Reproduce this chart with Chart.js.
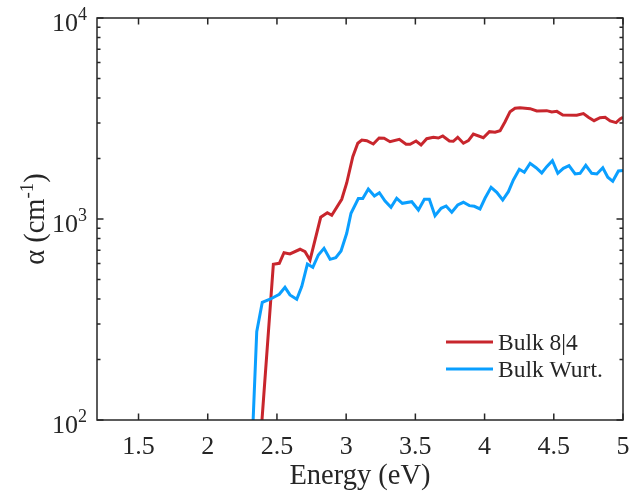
<!DOCTYPE html>
<html>
<head>
<meta charset="utf-8">
<script src="https://cdn.jsdelivr.net/npm/chart.js@4/dist/chart.umd.min.js"></script>
<style>
  body { margin: 0; background: #fff; }
</style>
</head>
<body>
<canvas id="absorption" width="631" height="497"></canvas>
<script>
// absorption spectra, alpha in cm^-1 vs photon energy in eV
const seriesNames = ['Bulk 8|4', 'Bulk Wurt.']

const energy84 = [2.36, 2.474, 2.517, 2.551, 2.594, 2.667, 2.703, 2.739, 2.816, 2.864,
  2.896, 2.968, 3.004, 3.048, 3.084, 3.113, 3.149, 3.196, 3.238, 3.274,
  3.317, 3.384, 3.433, 3.462, 3.505, 3.541, 3.582, 3.630, 3.666, 3.698,
  3.746, 3.774, 3.806, 3.847, 3.883, 3.919, 3.991, 4.035, 4.076, 4.112,
  4.148, 4.184, 4.220, 4.256, 4.329, 4.377, 4.449, 4.485, 4.522, 4.565,
  4.666, 4.714, 4.750, 4.791, 4.834, 4.871, 4.907, 4.950, 4.979, 5.0]
const alpha84 = [50, 595, 602, 680, 670, 707, 688, 625, 1020, 1075,
  1043, 1253, 1511, 2042, 2381, 2472, 2453, 2361, 2529, 2522,
  2424, 2492, 2353, 2353, 2443, 2334, 2508, 2549, 2529, 2588,
  2443, 2435, 2549, 2381, 2453, 2648, 2538, 2719, 2700, 2750,
  3049, 3419, 3555, 3580, 3540, 3446, 3460, 3407, 3432, 3292,
  3282, 3343, 3206, 3083, 3190, 3206, 3073, 3015, 3144, 3206]

const energyWurt = [2.31, 2.354, 2.394, 2.450, 2.517, 2.558, 2.594, 2.643, 2.679, 2.720,
  2.759, 2.799, 2.840, 2.884, 2.925, 2.963, 3.004, 3.035, 3.088, 3.120,
  3.160, 3.204, 3.240, 3.281, 3.324, 3.365, 3.406, 3.474, 3.522, 3.565,
  3.601, 3.642, 3.686, 3.722, 3.763, 3.806, 3.847, 3.890, 3.926, 3.967,
  4.003, 4.047, 4.088, 4.131, 4.172, 4.208, 4.251, 4.287, 4.329, 4.372,
  4.413, 4.449, 4.490, 4.529, 4.569, 4.610, 4.654, 4.690, 4.731, 4.774,
  4.811, 4.854, 4.890, 4.926, 4.967, 5.0]
const alphaWurt = [50, 275, 385, 399, 422, 457, 419, 399, 461, 597,
  575, 662, 715, 630, 642, 693, 849, 1068, 1265, 1264,
  1410, 1301, 1351, 1229, 1143, 1268, 1197, 1219, 1109, 1253,
  1253, 1038, 1130, 1161, 1080, 1174, 1211, 1165, 1157, 1122,
  1268, 1438, 1357, 1243, 1367, 1563, 1767, 1707, 1893, 1800,
  1695, 1821, 1950, 1688, 1787, 1842, 1675, 1688, 1850, 1688,
  1675, 1800, 1613, 1540, 1733, 1745]

const xTicks = [1.5, 2, 2.5, 3, 3.5, 4, 4.5, 5]
const yDecades = [2, 3, 4]

const axisColor = '#262626'
const serif = '"Liberation Serif", "Times New Roman", serif'

const toPoints = (xs, ys) => xs.map((e, i) => ({ x: e, y: ys[i] }))

// box, inward ticks, 10^n labels, y title and legend
const framePlugin = {
  id: 'frame',
  afterDatasetsDraw(chart) {
    const { ctx, chartArea: a, scales: { x, y } } = chart
    ctx.save()
    ctx.strokeStyle = axisColor
    ctx.lineWidth = 1.5
    ctx.strokeRect(a.left, a.top, a.right - a.left, a.bottom - a.top)

    ctx.beginPath()
    for (let v of xTicks) {
      const px = x.getPixelForValue(v)
      ctx.moveTo(px, a.bottom); ctx.lineTo(px, a.bottom - 6.5)
      ctx.moveTo(px, a.top); ctx.lineTo(px, a.top + 6.5)
    }
    yDecades.forEach((d, i) => {
      const last = i === yDecades.length - 1
      for (let m = 1; m <= (last ? 1 : 9); m++) {
        const py = y.getPixelForValue(m * Math.pow(10, d))
        const len = m === 1 ? 6.5 : 3.5
        ctx.moveTo(a.left, py); ctx.lineTo(a.left + len, py)
        ctx.moveTo(a.right, py); ctx.lineTo(a.right - len, py)
      }
    })
    ctx.stroke()

    // y tick labels with superscript exponent
    ctx.fillStyle = axisColor
    ctx.textBaseline = 'alphabetic'
    ctx.textAlign = 'right'
    for (let d of yDecades) {
      const py = y.getPixelForValue(Math.pow(10, d))
      ctx.font = '18px ' + serif
      const supW = ctx.measureText(String(d)).width
      ctx.fillText(String(d), a.left - 10, py + 2)
      ctx.font = '26px ' + serif
      ctx.fillText('10', a.left - 10 - supW, py + 13)
    }

    // legend
    ctx.textAlign = 'left'
    ctx.font = '23.5px ' + serif
    chart.data.datasets.forEach((ds, i) => {
      const ly = a.bottom - 78 + i * 27
      ctx.strokeStyle = ds.borderColor
      ctx.lineWidth = 3
      ctx.beginPath()
      ctx.moveTo(a.right - 177, ly)
      ctx.lineTo(a.right - 130, ly)
      ctx.stroke()
      ctx.fillStyle = axisColor
      ctx.fillText(ds.label, a.right - 125, ly + 8)
    })

    // y axis title: alpha (cm^-1)
    const big = '28.5px ' + serif
    const small = '19px ' + serif
    ctx.translate(44, (a.top + a.bottom) / 2)
    ctx.rotate(-Math.PI / 2)
    ctx.font = big
    const w1 = ctx.measureText('\u03b1 (cm').width
    const w3 = ctx.measureText(')').width
    ctx.font = small
    const w2 = ctx.measureText('-1').width
    let tx = -(w1 + w2 + w3) / 2
    ctx.font = big
    ctx.fillText('\u03b1 (cm', tx, 0)
    tx += w1
    ctx.font = small
    ctx.fillText('-1', tx, -11)
    tx += w2
    ctx.font = big
    ctx.fillText(')', tx, 0)
    ctx.restore()
  }
}

const ctx = document.getElementById('absorption').getContext('2d')

const chart = new Chart(ctx, {
  type: 'line',
  data: {
    datasets: [{
      label: seriesNames[0],
      data: toPoints(energy84, alpha84),
      borderColor: '#c8262d',
      borderWidth: 3,
      pointRadius: 0,
      order: 1
    }, {
      label: seriesNames[1],
      data: toPoints(energyWurt, alphaWurt),
      borderColor: '#0a9fff',
      borderWidth: 3,
      pointRadius: 0,
      order: 0
    }]
  },
  options: {
    responsive: false,
    animation: false,
    devicePixelRatio: 1,
    layout: { padding: { left: 0, right: 8, top: 18, bottom: 0 } },
    plugins: { legend: { display: false }, tooltip: { enabled: false } },
    scales: {
      x: {
        type: 'linear',
        min: 1.2,
        max: 5,
        afterBuildTicks: (scale) => { scale.ticks = xTicks.map(v => ({ value: v })) },
        afterFit: (scale) => {
          scale.height = 77
          scale.paddingLeft = 0
          scale.paddingRight = 0
        },
        grid: { display: false, drawTicks: false },
        border: { display: false },
        ticks: {
          color: axisColor,
          padding: 12,
          maxRotation: 0,
          font: { family: serif, size: 26 },
          callback: (v) => String(v)
        },
        title: {
          display: true,
          text: 'Energy (eV)',
          color: axisColor,
          font: { family: serif, size: 28.5 },
          padding: { top: 0, bottom: 3 }
        }
      },
      y: {
        type: 'logarithmic',
        min: 100,
        max: 10000,
        afterBuildTicks: (scale) => { scale.ticks = yDecades.map(d => ({ value: Math.pow(10, d) })) },
        afterFit: (scale) => {
          scale.width = 97
          scale.paddingTop = 0
          scale.paddingBottom = 0
        },
        grid: { display: false, drawTicks: false },
        border: { display: false },
        ticks: { callback: () => '' }
      }
    }
  },
  plugins: [framePlugin]
})
</script>
</body>
</html>
